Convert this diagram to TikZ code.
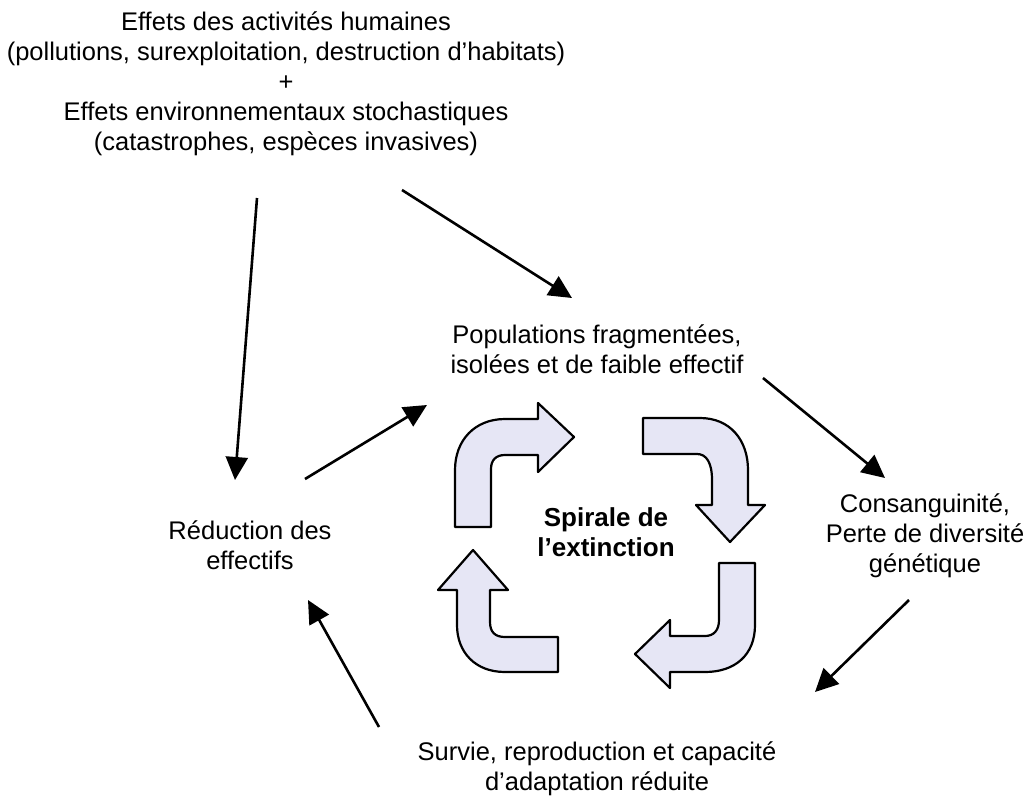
\documentclass[tikz,border=0pt]{standalone}
\usepackage{fontspec}
\setmainfont{Liberation Sans}
\usetikzlibrary{arrows.meta}
\definecolor{spiral}{RGB}{230,230,245}
\begin{document}
\begin{tikzpicture}[x=1pt,y=-1pt,
  lbl/.style={align=center, font=\fontsize{25.5}{30}\selectfont, inner sep=0pt},
  conn/.style={line width=2.6pt, -{Triangle[length=23pt,width=22pt]}},
  bent/.style={draw=black, line width=2.2pt, fill=spiral, line join=round}]
\useasboundingbox (0,0) rectangle (1033,795);

% text nodes
\node[lbl] (top) at (286,84) {Effets des activités humaines\\(pollutions, surexploitation, destruction d’habitats)\\+\\Effets environnementaux stochastiques\\(catastrophes, espèces invasives)};
\node[lbl] (pop) at (597,349) {Populations fragmentées,\\isolées et de faible effectif};
\node[lbl] (cons) at (925,536) {Consanguinité,\\Perte de diversité\\génétique};
\node[lbl] (red) at (250,545) {Réduction des\\effectifs};
\node[lbl, font=\fontsize{26}{30}\selectfont\bfseries] (spi) at (606,532) {Spirale de\\l’extinction};
\node[lbl] (surv) at (597,769) {Survie, reproduction et capacité\\d’adaptation réduite};

% connector end points
\coordinate (c1s) at (257,198); \coordinate (c1e) at (235,480);
\coordinate (c2s) at (402,190); \coordinate (c2e) at (572,298);
\coordinate (c3s) at (305,479); \coordinate (c3e) at (427,405);
\coordinate (c4s) at (763,378); \coordinate (c4e) at (885,478);
\coordinate (c5s) at (909,600); \coordinate (c5e) at (815,692);
\coordinate (c6s) at (379,727); \coordinate (c6e) at (308,600);

\draw[conn] (c1s) -- (c1e);
\draw[conn] (c2s) -- (c2e);
\draw[conn] (c3s) -- (c3e);
\draw[conn] (c4s) -- (c4e);
\draw[conn] (c5s) -- (c5e);
\draw[conn] (c6s) -- (c6e);

% bent arrows of the spiral
\draw[bent] (455,527) -- (455,470) .. controls (455,440) and (475,419) .. (505,419)
  -- (538,419) -- (538,403) -- (574,437) -- (538,472) -- (538,455) -- (505,455)
  .. controls (496,455) and (491,460) .. (491,469) -- (491,527) -- cycle;
\draw[bent] (643,418) -- (700,418) .. controls (730,418) and (748,440) .. (748,470)
  -- (748,505) -- (765,505) -- (730,542) -- (696,505) -- (712,505) -- (712,480)
  .. controls (712,462) and (706,454) .. (697,454) -- (643,454) -- cycle;
\draw[bent] (755,563) -- (755,625) .. controls (755,655) and (735,672) .. (705,672)
  -- (670,672) -- (670,688) -- (635,654) -- (670,620) -- (670,636) -- (705,636)
  .. controls (714,636) and (719,630) .. (719,620) -- (719,563) -- cycle;
\draw[bent] (558,672) -- (505,672) .. controls (475,672) and (457,652) .. (457,625)
  -- (457,590) -- (438,590) -- (473,550) -- (508,590) -- (490,590) -- (490,622)
  .. controls (490,632) and (495,637) .. (505,637) -- (558,637) -- cycle;
\end{tikzpicture}
\end{document}
